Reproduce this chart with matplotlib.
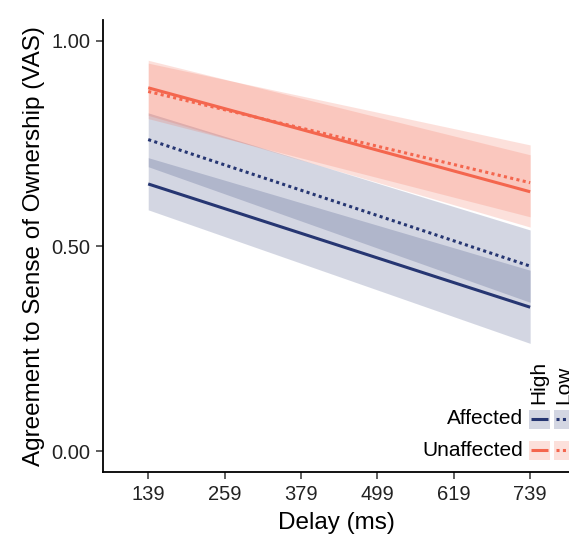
import numpy as np
import matplotlib
matplotlib.use('Agg')
import matplotlib.pyplot as plt
from matplotlib.patches import Rectangle
from matplotlib.lines import Line2D

plt.rcParams['font.family'] = ['Liberation Sans', 'DejaVu Sans']

# data (fitted lines and 95% bands at first/last delay)
delay = [139, 739]
xticks = [139, 259, 379, 499, 619, 739]

aff_high = [0.651, 0.351]
aff_high_lo = [0.588, 0.263]
aff_high_hi = [0.715, 0.441]

aff_low = [0.759, 0.451]
aff_low_lo = [0.693, 0.363]
aff_low_hi = [0.824, 0.539]

unaff_high = [0.885, 0.632]
unaff_high_lo = [0.818, 0.546]
unaff_high_hi = [0.952, 0.722]

unaff_low = [0.876, 0.654]
unaff_low_lo = [0.810, 0.571]
unaff_low_hi = [0.945, 0.746]

navy = '#263672'
red = '#F4664E'
band_alpha = 0.2
dots = (0, (1.0, 1.1))

W, H = 569, 536
fig = plt.figure(figsize=(W/100, H/100), dpi=100)
ax = fig.add_axes([103/W, (H-472)/H, 1 - 103/W, (472-20)/H])

# ribbons
ax.fill_between(delay, aff_high_lo, aff_high_hi, color=navy, alpha=band_alpha, lw=0)
ax.fill_between(delay, aff_low_lo, aff_low_hi, color=navy, alpha=band_alpha, lw=0)
ax.fill_between(delay, unaff_high_lo, unaff_high_hi, color=red, alpha=band_alpha, lw=0)
ax.fill_between(delay, unaff_low_lo, unaff_low_hi, color=red, alpha=band_alpha, lw=0)

# fitted lines
ax.plot(delay, aff_high, color=navy, lw=2.2, solid_capstyle='butt')
ax.plot(delay, aff_low, color=navy, lw=2.2, ls=dots, dash_capstyle='butt')
ax.plot(delay, unaff_high, color=red, lw=2.2, solid_capstyle='butt')
ax.plot(delay, unaff_low, color=red, lw=2.2, ls=dots, dash_capstyle='butt')

ax.set_xlim(68, 800)
ax.set_ylim(-0.05, 1.05)
ax.set_xticks(xticks)
ax.set_yticks([0.0, 0.5, 1.0])
ax.set_yticklabels(['0.00', '0.50', '1.00'])
ax.tick_params(labelsize=14.5, length=5, width=1.1, color='#333333',
               labelcolor='#222222', pad=4)
for s in ['top', 'right']:
    ax.spines[s].set_visible(False)
for s in ['left', 'bottom']:
    ax.spines[s].set_linewidth(1.3)
ax.set_xlabel('Delay (ms)', fontsize=17.5, labelpad=6)
ax.set_ylabel('Agreement to Sense of Ownership (VAS)', fontsize=17.5, labelpad=5)

# legend, drawn by hand (row labels on left, rotated column titles on top)
def fx(px):
    return px / W

def fy(py):
    return 1 - py / H

rows = [('Affected', navy, 419), ('Unaffected', red, 450)]
cols = [('High', '-', 529), ('Low', dots, 554)]
kw, kh = 21, 19
for label, col, yc in rows:
    fig.text(fx(523), fy(yc), label, ha='right', va='center', fontsize=15)
    for title, ls, x0 in cols:
        fig.add_artist(Rectangle((fx(x0), fy(yc + kh/2)), kw/W, kh/H,
                                 transform=fig.transFigure, facecolor=col,
                                 alpha=band_alpha, lw=0))
        fig.add_artist(Line2D([fx(x0 + 2), fx(x0 + kw - 2)], [fy(yc), fy(yc)],
                              transform=fig.transFigure, color=col, lw=2.2,
                              ls=ls, solid_capstyle='butt', dash_capstyle='butt'))
for title, ls, x0 in cols:
    fig.text(fx(x0 + kw/2 - 1), fy(404), title, rotation=90, ha='center', va='bottom',
             fontsize=15)

fig.savefig('out.png', dpi=100)
